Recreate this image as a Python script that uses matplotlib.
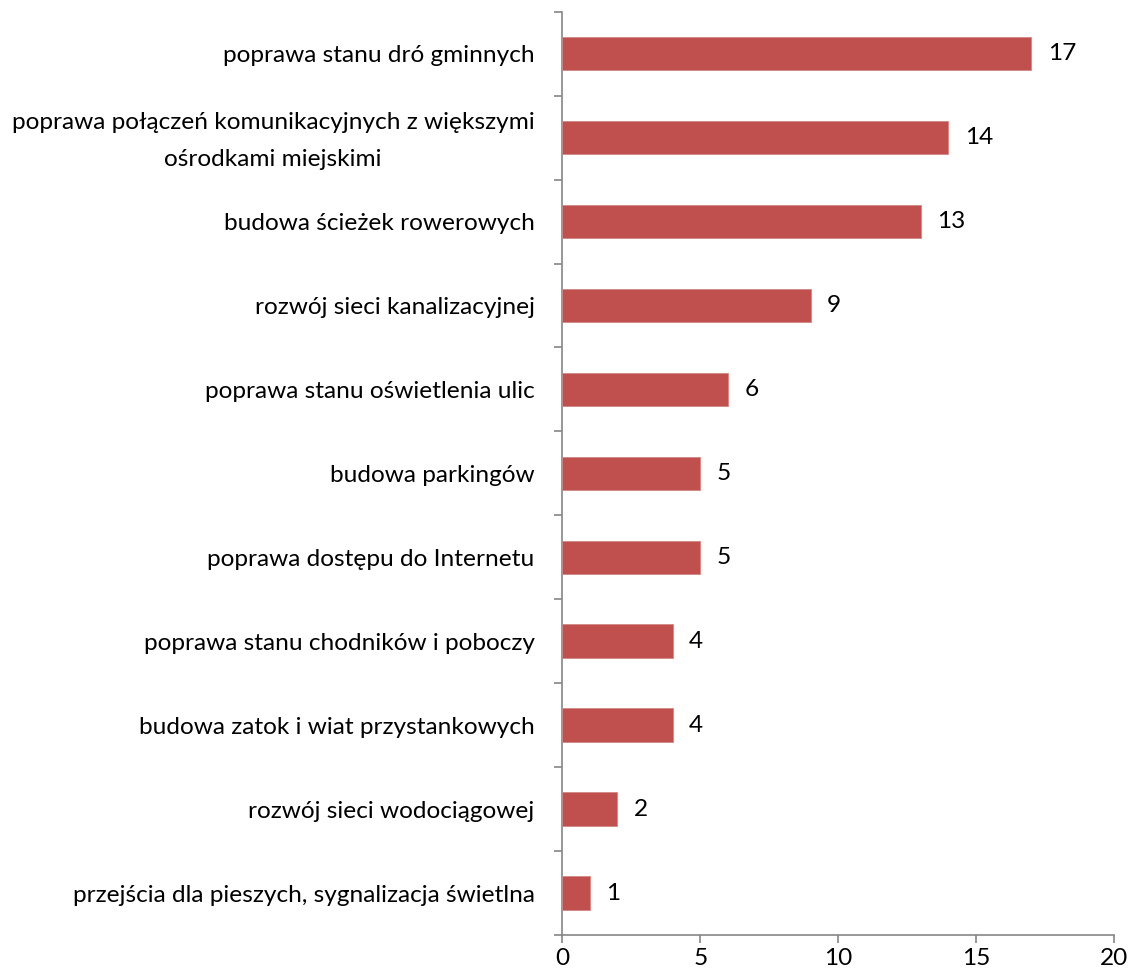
import matplotlib
matplotlib.use("Agg")
import matplotlib.pyplot as plt
import matplotlib.transforms as mtransforms
import numpy as np

categories = [
    "poprawa stanu dró gminnych",
    "poprawa połączeń komunikacyjnych z większymi\nośrodkami miejskimi",
    "budowa ścieżek rowerowych",
    "rozwój sieci kanalizacyjnej",
    "poprawa stanu oświetlenia ulic",
    "budowa parkingów",
    "poprawa dostępu do Internetu",
    "poprawa stanu chodników i poboczy",
    "budowa zatok i wiat przystankowych",
    "rozwój sieci wodociągowej",
    "przejścia dla pieszych, sygnalizacja świetlna",
]
values = [17, 14, 13, 9, 6, 5, 5, 4, 4, 2, 1]
xticks = [0, 5, 10, 15, 20]

BAR = "#C0504D"
AXC = "#868686"
FS = 17.6

plt.rcParams["font.family"] = ["Lato", "DejaVu Sans"]

fig = plt.figure(figsize=(11.28, 9.76), dpi=100)
ax = fig.add_axes([0.4985, 0.042, 0.489, 0.946])

y = np.arange(len(categories))
ax.barh(y, values, height=0.4, color=BAR, edgecolor="#D08986", linewidth=0.6, zorder=3)
for yi, v in zip(y, values):
    ax.text(v + 0.6, yi, str(v), va="center", ha="left", fontsize=FS, color="black")

ax.set_ylim(len(categories) - 0.5, -0.5)
ax.set_xlim(0, 20)
ax.set_yticks(y)
ax.set_yticklabels(categories, fontsize=FS, linespacing=1.95)
ax.set_yticks(np.arange(-0.5, len(categories)), minor=True)
ax.tick_params(axis="y", which="major", length=0, pad=20)
ax.tick_params(axis="y", which="minor", length=6, width=1.2, color=AXC, direction="out")
for lbl in ax.get_yticklabels():
    lbl.set_multialignment("center")
    if "\n" in lbl.get_text():
        # nudge the two-line label up so it sits centred on its bar
        lbl.set_transform(lbl.get_transform()
                          + mtransforms.ScaledTranslation(0, 0.07, fig.dpi_scale_trans))

ax.set_xticks(xticks)
ax.set_xticklabels([str(t) for t in xticks], fontsize=FS)
ax.tick_params(axis="x", length=6, width=1.2, color=AXC, direction="out", pad=3)

for s in ("top", "right"):
    ax.spines[s].set_visible(False)
for s in ("left", "bottom"):
    ax.spines[s].set_color(AXC)
    ax.spines[s].set_linewidth(1.2)

fig.savefig("out.png", dpi=100, facecolor="white")
